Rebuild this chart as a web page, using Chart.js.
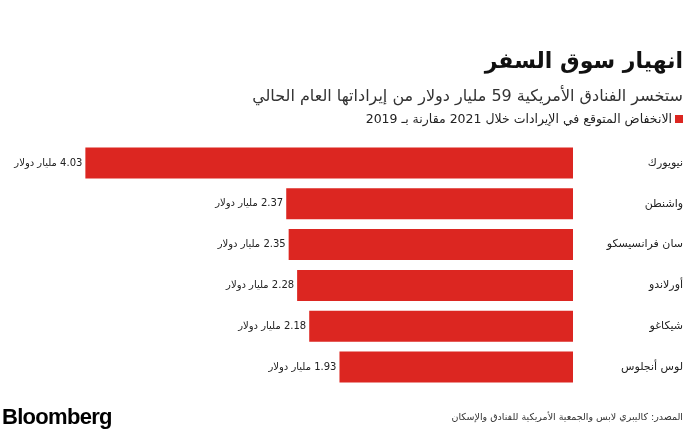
<!DOCTYPE html>
<html lang="ar">
<head>
<meta charset="utf-8">
<script src="https://cdn.jsdelivr.net/npm/chart.js@4/dist/chart.umd.min.js"></script>
<style>
  html, body { margin: 0; padding: 0; background: #fff; }
  #wrap { position: relative; width: 690px; height: 432px; overflow: hidden; font-family: 'DejaVu Sans', sans-serif; color: #111; }
  #wrap canvas { position: absolute; left: 0; top: 0; }
  .txt { position: absolute; right: 7px; direction: rtl; text-align: right; white-space: nowrap; }
  #title { top: 48px; font-size: 22px; font-weight: bold; }
  #sub { top: 86px; font-size: 16px; color: #333; }
  #legend { top: 111px; font-size: 12.5px; color: #222; }
  #legend i { display: inline-block; width: 8px; height: 8px; background: #dc2621; margin-left: 3px; vertical-align: 0; }
  #source { top: 411px; font-size: 9.5px; color: #333; }
  #logo { position: absolute; left: 2px; top: 404px; font-family: 'Liberation Sans', Arial, sans-serif; font-weight: bold; font-size: 22px; color: #000; letter-spacing: -0.7px; }
</style>
</head>
<body>
<div id="wrap">
  <canvas id="chart" width="690" height="432"></canvas>
  <div class="txt" id="title">انهيار سوق السفر</div>
  <div class="txt" id="sub">ستخسر الفنادق الأمريكية 59 مليار دولار من إيراداتها العام الحالي</div>
  <div class="txt" id="legend"><i></i>الانخفاض المتوقع في الإيرادات خلال 2021 مقارنة بـ 2019</div>
  <div class="txt" id="source">المصدر: كاليبري لابس والجمعية الأمريكية للفنادق والإسكان</div>
  <div id="logo">Bloomberg</div>
</div>
<script>
const cities = ['نيويورك', 'واشنطن', 'سان فرانسيسكو', 'أورلاندو', 'شيكاغو', 'لوس أنجلوس'];
const losses = [4.03, 2.37, 2.35, 2.28, 2.18, 1.93];
const unit = 'مليار دولار';

const labelPlugin = {
  id: 'labels',
  afterDatasetsDraw(chart) {
    const { ctx } = chart;
    const yScale = chart.scales.y;
    const meta = chart.getDatasetMeta(0);
    ctx.save();
    ctx.direction = 'rtl';
    ctx.textAlign = 'right';
    ctx.textBaseline = 'middle';
    cities.forEach((c, i) => {
      const y = yScale.getPixelForValue(i);
      ctx.fillStyle = '#222';
      ctx.font = '11px "DejaVu Sans"';
      ctx.fillText(c, 683, y);
      const bar = meta.data[i];
      ctx.font = '10px "DejaVu Sans"';
      ctx.fillText(losses[i].toFixed(2) + ' ' + unit, bar.x - 3, y);
    });
    ctx.restore();
  }
};

new Chart(document.getElementById('chart'), {
  type: 'bar',
  data: {
    labels: cities,
    datasets: [{
      data: losses,
      backgroundColor: '#dc2621',
      borderWidth: 0,
      categoryPercentage: 0.76,
      barPercentage: 1
    }]
  },
  options: {
    indexAxis: 'y',
    responsive: false,
    animation: false,
    layout: { padding: { left: 28.5, right: 117, top: 142.6, bottom: 44.6 } },
    plugins: { legend: { display: false }, tooltip: { enabled: false } },
    scales: {
      x: { reverse: true, min: 0, max: 4.5, display: false },
      y: { display: false }
    }
  },
  plugins: [labelPlugin]
});
</script>
</body>
</html>
